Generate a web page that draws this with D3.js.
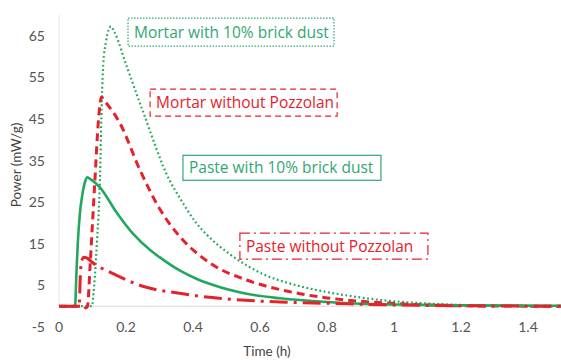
<!DOCTYPE html>
<html>
<head>
<meta charset="utf-8">
<script src="https://cdn.jsdelivr.net/npm/d3@7"></script>
<style>
	body { margin: 0; background: #fff; }
	text { font-family: Lato, "Open Sans", sans-serif; }
	.boxlabel { font-family: "Open Sans", Lato, sans-serif; }
</style>
</head>
<body>
<svg id="chart" width="561" height="360"></svg>
<script>
// Heat flow curves, time in hours, power in mW/g
var mortarBrickT = [0, 0.098, 0.105, 0.113, 0.122, 0.128, 0.132, 0.14, 0.148, 0.155, 0.165, 0.203, 0.25, 0.33, 0.361, 0.41, 0.44, 0.51, 0.61, 0.71, 0.8, 0.9, 0.97, 1.09, 1.2, 1.35, 1.5];
var mortarBrickV = [0, 0, 5, 15, 30, 50, 58, 63.5, 66.5, 67.3, 66, 57.5, 47, 30.3, 26, 20, 17.3, 12.5, 7.7, 5, 3.4, 2.1, 1.4, 0.7, 0.3, 0.1, 0];

var mortarPlainT = [0, 0.075, 0.08, 0.085, 0.093, 0.1, 0.107, 0.118, 0.127, 0.135, 0.182, 0.242, 0.3, 0.36, 0.42, 0.46, 0.56, 0.66, 0.72, 0.8, 0.87, 0.97, 1.1, 1.2, 1.5];
var mortarPlainV = [0, 0, -0.4, 0, 10, 20, 30, 45, 50.3, 49.5, 44, 32.7, 23.5, 16.8, 12.2, 9.9, 6.3, 4.0, 3.0, 2.0, 1.4, 0.8, 0.3, 0.1, 0];

var pasteBrickT = [0, 0.048, 0.052, 0.056, 0.062, 0.07, 0.078, 0.085, 0.095, 0.122, 0.173, 0.22, 0.272, 0.3, 0.36, 0.41, 0.46, 0.56, 0.66, 0.8, 0.9, 1.0, 1.2, 1.5];
var pasteBrickV = [0, 0, 8, 15, 22, 27, 30, 31, 30.5, 28.6, 22.4, 17.5, 13.5, 11.8, 8.6, 6.6, 5.1, 3.0, 1.9, 1.0, 0.6, 0.4, 0.2, 0.1];

var pastePlainT = [0, 0.06, 0.064, 0.068, 0.075, 0.085, 0.1, 0.16, 0.25, 0.36, 0.41, 0.51, 0.66, 0.8, 1.0, 1.2, 1.5];
var pastePlainV = [0, 0, 8, 11, 11.8, 11.5, 10.5, 7.9, 4.8, 3.1, 2.5, 1.7, 1.0, 0.7, 0.3, 0.1, 0];

var seriesNames = ["Mortar with 10% brick dust", "Mortar without Pozzolan", "Paste with 10% brick dust", "Paste without Pozzolan"];
// label box anchors (top-left corner, in data units)
var labelT = [0.206, 0.272, 0.37, 0.54];
var labelV = [69.3, 52.2, 36.3, 17.6];

var xTicks = [0, 0.2, 0.4, 0.6, 0.8, 1, 1.2, 1.4];
var yTicks = [-5, 5, 15, 25, 35, 45, 55, 65];

var green = "#22a85c";
var red = "#e4222c";

var svg = d3.select("#chart");

var x = d3.scaleLinear().domain([0, 1.5]).range([59, 561.5]);
var y = d3.scaleLinear().domain([-5, 65]).range([327, 36]);

// axis lines
svg.append("line")
	.attr("x1", x(0)).attr("x2", x(1.5))
	.attr("y1", y(0)).attr("y2", y(0))
	.style("stroke", "#d9d9d9").style("stroke-width", 1);
svg.append("line")
	.attr("x1", x(0)).attr("x2", x(0))
	.attr("y1", y(0)).attr("y2", 15)
	.style("stroke", "#e3e3e3").style("stroke-width", 1);

// tick labels
svg.append("g").selectAll("text")
	.data(yTicks)
	.enter().append("text")
	.attr("x", 45)
	.attr("y", d => y(d))
	.attr("dy", "0.35em")
	.attr("text-anchor", "end")
	.style("font-size", "14px")
	.style("fill", "#555")
	.text(d => d);

svg.append("g").selectAll("text")
	.data(xTicks)
	.enter().append("text")
	.attr("x", d => x(d))
	.attr("y", y(-5))
	.attr("dy", "0.35em")
	.attr("text-anchor", "middle")
	.style("font-size", "14px")
	.style("fill", "#555")
	.text(d => d);

svg.append("text")
	.attr("transform", "translate(21,165) rotate(-90)")
	.attr("text-anchor", "middle")
	.style("font-size", "13.5px")
	.style("fill", "#444")
	.text("Power (mW/g)");

svg.append("text")
	.attr("x", 267)
	.attr("y", 356)
	.attr("text-anchor", "middle")
	.style("font-size", "13.5px")
	.style("fill", "#444")
	.text("Time (h)");

// curves
var line = d3.line()
	.x(d => x(d[0]))
	.y(d => y(d[1]))
	.curve(d3.curveMonotoneX);

var series = [
	{ t: mortarBrickT, v: mortarBrickV, color: green, width: 2.2, dash: "1.8,2.6" },
	{ t: mortarPlainT, v: mortarPlainV, color: red, width: 3, dash: "8,5" },
	{ t: pasteBrickT, v: pasteBrickV, color: green, width: 2.6, dash: null },
	{ t: pastePlainT, v: pastePlainV, color: red, width: 3, dash: "18,6,3,6" }
];

svg.append("g").selectAll("path")
	.data(series)
	.enter().append("path")
	.attr("d", s => line(d3.zip(s.t, s.v)))
	.style("fill", "none")
	.style("stroke", s => s.color)
	.style("stroke-width", s => s.width)
	.style("stroke-dasharray", s => s.dash);

// annotation boxes
var boxStyle = [
	{ color: "#2fa873", dash: "1.5,1.5", w: 206, h: 28 },
	{ color: red, dash: "6,4", w: 187, h: 27 },
	{ color: "#2fa873", dash: null, w: 198, h: 25 },
	{ color: red, dash: "10,4,2,4", w: 188, h: 26 }
];

var labels = svg.append("g").selectAll("g")
	.data(seriesNames)
	.enter().append("g")
	.attr("transform", (d, i) => "translate(" + x(labelT[i]) + "," + y(labelV[i]) + ")");

labels.append("rect")
	.attr("width", (d, i) => boxStyle[i].w)
	.attr("height", (d, i) => boxStyle[i].h)
	.style("fill", "#fff")
	.style("stroke", (d, i) => boxStyle[i].color)
	.style("stroke-width", 1.2)
	.style("stroke-dasharray", (d, i) => boxStyle[i].dash);

labels.append("text")
	.attr("class", "boxlabel")
	.attr("x", 6)
	.attr("y", (d, i) => boxStyle[i].h / 2)
	.attr("dy", "0.36em")
	.style("font-size", "15.5px")
	.style("fill", (d, i) => boxStyle[i].color)
	.text(d => d);
</script>
</body>
</html>
